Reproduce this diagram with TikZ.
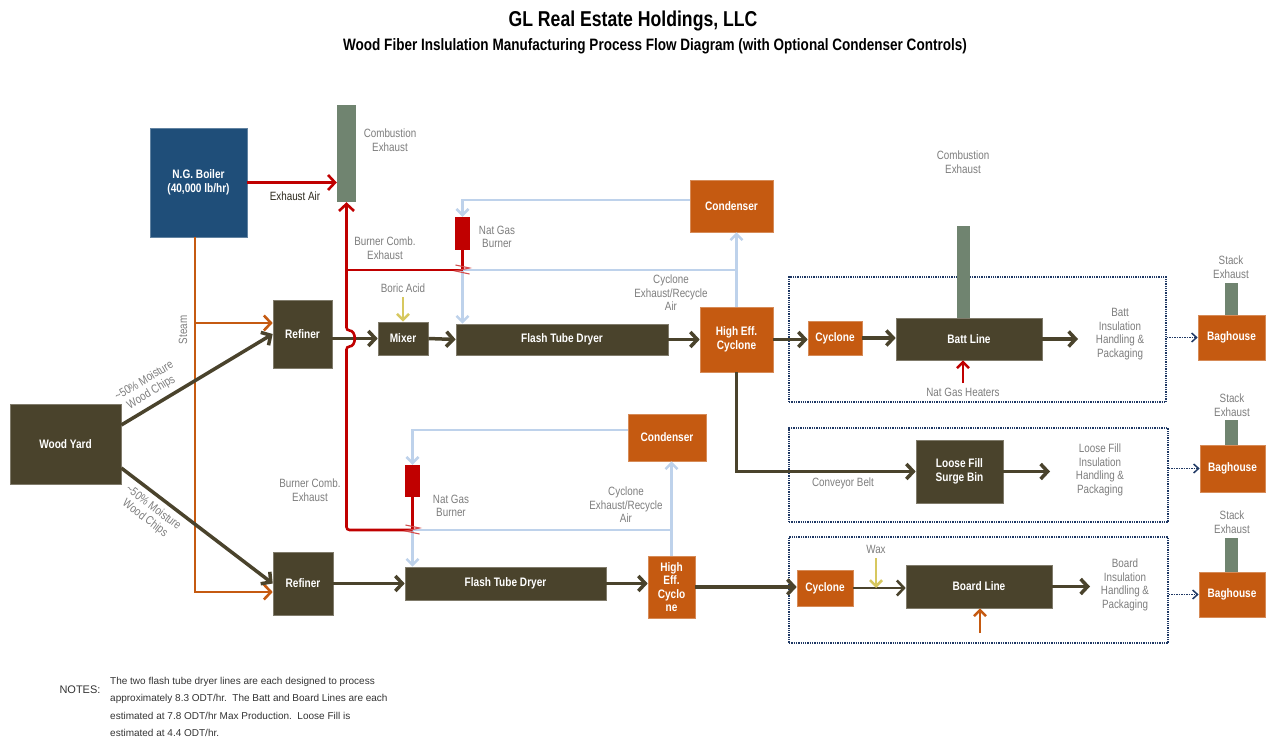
\documentclass[tikz,border=0pt]{standalone}
\usepackage{fontspec}
\setmainfont{Liberation Sans}
\newfontfamily\narrowfont{Liberation Sans}[FakeStretch=0.82]
\usepackage{tikz}
\usetikzlibrary{positioning,arrows.meta}
\definecolor{woodbrown}{RGB}{74,67,44}
\definecolor{rust}{RGB}{197,90,17}
\definecolor{boilerblue}{RGB}{31,78,121}
\definecolor{stackgreen}{RGB}{112,132,112}
\definecolor{fluered}{RGB}{192,0,0}
\definecolor{airblue}{RGB}{190,210,235}
\definecolor{additive}{RGB}{215,200,95}
\definecolor{zoneblue}{RGB}{31,56,100}
\definecolor{labelgray}{RGB}{125,125,125}

\tikzset{
  boxtext/.style={font=\narrowfont\bfseries\fontsize{12.3}{13.5}\selectfont,text=white,align=center,inner sep=1pt},
  woodbox/.style={boxtext,fill=woodbrown,draw=woodbrown!70!white,line width=0.6pt},
  rustbox/.style={boxtext,fill=rust,draw=rust!70!white,line width=0.6pt},
  stackbar/.style={fill=stackgreen,inner sep=0pt},
  burnerbox/.style={fill=fluered,inner sep=0pt,minimum width=15pt,minimum height=33pt},
  zonebox/.style={draw=zoneblue,densely dotted,line width=1.3pt,inner sep=0pt},
  lbl/.style={font=\narrowfont\fontsize{12}{13.5}\selectfont,text=labelgray,align=center,inner sep=1pt},
  barb/.style={-{Straight Barb[length=7pt,width=15pt]}},
  flow/.style={draw=woodbrown,line width=3.5pt},
  steamline/.style={draw=rust,line width=2.6pt},
  exhaust/.style={draw=fluered,line width=2.6pt},
  recycle/.style={draw=airblue,line width=2.6pt},
  smallbarb/.style={-{Straight Barb[length=6pt,width=12pt]}}
}

\begin{document}
\begin{tikzpicture}[x=1pt,y=-1pt]
  \useasboundingbox (0,0) rectangle (1266,746);

  % titles
  \node[font=\narrowfont\bfseries\fontsize{21.5}{23}\selectfont] (title) at (633,21) {GL Real Estate Holdings, LLC};
  \node[font=\narrowfont\bfseries\fontsize{16.5}{18}\selectfont] (subtitle) at (655,46)
    {Wood Fiber Inslulation Manufacturing Process Flow Diagram (with Optional Condenser Controls)};

  % steam side
  \node[boxtext,fill=boilerblue,draw=boilerblue!70!white,minimum width=97pt,minimum height=109pt] (boiler) at (198.5,182.5) {N.G. Boiler\\(40,000 lb/hr)};
  \node[stackbar,minimum width=19pt,minimum height=97pt] (stack1) at (346.5,153.5) {};
  \node[lbl] (combexh1) at (390,140) {Combustion\\Exhaust};
  \node[lbl,text=woodbrown!60!black] (exhair) at (295,196) {Exhaust Air};
  \node[lbl,rotate=90] (steam) at (183,330) {Steam};

  % feed
  \node[woodbox,minimum width=111pt,minimum height=80pt] (woodyard) at (65.5,444) {Wood Yard};
  \node[woodbox,minimum width=59pt,minimum height=68pt] (refiner1) at (302.5,334) {Refiner};
  \node[woodbox,minimum width=60pt,minimum height=63pt] (refiner2) at (303,583.5) {Refiner};

  % upper dryer line
  \node[woodbox,minimum width=50pt,minimum height=33pt] (mixer) at (403,338.5) {Mixer};
  \node[lbl] (boric) at (403,288) {Boric Acid};
  \coordinate (boricin) at (403,297);
  \node[woodbox,minimum width=212pt,minimum height=31pt] (dryer1) at (562,339.5) {Flash Tube Dryer};
  \node[rustbox,minimum width=73pt,minimum height=65pt] (hecyc1) at (736.5,339.5) {High Eff.\\Cyclone};
  \node[rustbox,minimum width=83pt,minimum height=52pt] (condenser1) at (731.5,206) {Condenser};
  \node[burnerbox] (burner1) at (462.5,233.5) {};
  \coordinate (jct1) at (462.5,270);
  \node[lbl] (natgas1) at (497,237) {Nat Gas\\Burner};
  \node[lbl] (burnexh1) at (385,248) {Burner Comb.\\Exhaust};
  \node[lbl] (recair1) at (671,293) {Cyclone\\Exhaust/Recycle\\Air};

  % lower dryer line
  \node[woodbox,minimum width=201pt,minimum height=33pt] (dryer2) at (505.5,583.5) {Flash Tube Dryer};
  \node[rustbox,minimum width=47pt,minimum height=62pt] (hecyc2) at (671.5,587) {High\\Eff.\\Cyclo\\ne};
  \node[rustbox,minimum width=78pt,minimum height=47pt] (condenser2) at (667,437.5) {Condenser};
  \node[burnerbox,minimum height=32pt] (burner2) at (412.5,481) {};
  \coordinate (jct2) at (412.5,530);
  \node[lbl] (natgas2) at (451,506) {Nat Gas\\Burner};
  \node[lbl] (burnexh2) at (310,490) {Burner Comb.\\Exhaust};
  \node[lbl] (recair2) at (626,505) {Cyclone\\Exhaust/Recycle\\Air};

  % batt zone
  \node[zonebox,minimum width=377pt,minimum height=125pt] (battzone) at (977.5,339.5) {};
  \node[rustbox,minimum width=54pt,minimum height=34pt] (cyclone1) at (835,338) {Cyclone};
  \node[stackbar,minimum width=13pt,minimum height=92pt] (stack2) at (963.5,272) {};
  \node[woodbox,minimum width=146pt,minimum height=42pt] (battline) at (969,339) {Batt Line};
  \node[lbl] (combexh2) at (963,162) {Combustion\\Exhaust};
  \node[lbl] (heaters) at (963,392) {Nat Gas Heaters};
  \coordinate (heatin) at (963,383);
  \node[lbl] (batttext) at (1120,334) {Batt\\Insulation\\Handling \&\\Packaging};
  \coordinate (battout) at (1078,339);
  \node[stackbar,minimum width=13pt,minimum height=32pt] (stack3) at (1231.5,299) {};
  \node[rustbox,minimum width=67pt,minimum height=45pt] (bag1) at (1231.5,337.5) {Baghouse};
  \node[lbl] (stacklbl1) at (1231,267) {Stack\\Exhaust};

  % loose fill zone
  \node[zonebox,minimum width=379pt,minimum height=94pt] (loosezone) at (978.5,475) {};
  \node[woodbox,minimum width=87pt,minimum height=63pt] (surge) at (959.5,471.5) {Loose Fill\\Surge Bin};
  \node[lbl] (conveyor) at (843,483) {Conveyor Belt};
  \node[lbl] (loosetext) at (1100,470) {Loose Fill\\Insulation\\Handling \&\\Packaging};
  \coordinate (looseout) at (1050,471.5);
  \node[stackbar,minimum width=13pt,minimum height=25pt] (stack4) at (1231.5,432.5) {};
  \node[rustbox,minimum width=65pt,minimum height=47pt] (bag2) at (1232.5,468.5) {Baghouse};
  \node[lbl] (stacklbl2) at (1232,405) {Stack\\Exhaust};

  % board zone
  \node[zonebox,minimum width=379pt,minimum height=106pt] (boardzone) at (978.5,590) {};
  \node[rustbox,minimum width=56pt,minimum height=36pt] (cyclone2) at (825,588) {Cyclone};
  \node[woodbox,minimum width=146pt,minimum height=43pt] (boardline) at (979,586.5) {Board Line};
  \node[lbl] (wax) at (876,549) {Wax};
  \coordinate (waxin) at (876,558);
  \coordinate (boardheat) at (980,633);
  \node[lbl] (boardtext) at (1125,585) {Board\\Insulation\\Handling \&\\Packaging};
  \coordinate (boardout) at (1090,588);
  \node[stackbar,minimum width=13pt,minimum height=34pt] (stack5) at (1231.5,555) {};
  \node[rustbox,minimum width=66pt,minimum height=45pt] (bag3) at (1232,594.5) {Baghouse};
  \node[lbl] (stacklbl3) at (1232,522) {Stack\\Exhaust};

  % notes
  \node[font=\fontsize{11}{12}\selectfont,text=black!80,anchor=east] (noteshead) at (104,690) {NOTES:};
  \node[font=\fontsize{10}{17.5}\selectfont,text=black!80,anchor=north west,align=left,inner sep=0pt] (notes) at (110,677)
    {The two flash tube dryer lines are each designed to process\\
     approximately 8.3 ODT/hr.\ \ The Batt and Board Lines are each\\
     estimated at 7.8 ODT/hr Max Production.\ \ Loose Fill is\\
     estimated at 4.4 ODT/hr.};

  % steam
  \coordinate (steam1) at ([yshift=11pt]refiner1.west);
  \coordinate (steam2) at ([yshift=-8.5pt]refiner2.west);
  \draw[steamline,barb] (boiler.south -| 195,0) |- (steam2);
  \draw[steamline,barb] (steam1 -| 195,0) -- (steam1);
  \draw[exhaust,barb] (boiler.east) -- (boiler.east -| stack1.west);

  % chips
  \draw[flow,barb] ([yshift=19pt]woodyard.east) -- (refiner1.west)
    node[lbl,pos=0.24,sloped,above=4pt] {\textasciitilde 50\% Moisture\\Wood Chips};
  \draw[flow,barb] ([yshift=-24pt]woodyard.east) -- (refiner2.west)
    node[lbl,pos=0.26,sloped,below=4pt] {\textasciitilde 50\% Moisture\\Wood Chips};

  % process flows
  \draw[flow,barb] (refiner1.east |- mixer.west) -- (mixer.west);
  \draw[flow,barb] (mixer.east) -- (dryer1.west);
  \draw[flow,barb] (dryer1.east) -- (dryer1.east -| hecyc1.west);
  \draw[flow,barb] (hecyc1.east) -- (hecyc1.east -| cyclone1.west);
  \draw[flow,barb] (cyclone1.east) -- (cyclone1.east -| battline.west);
  \draw[flow,barb] (battline.east) -- (battline.east -| battout);
  \draw[flow,barb] (hecyc1.south) |- (surge.west);
  \draw[flow,barb] (surge.east) -- (looseout);
  \draw[flow,barb] (refiner2.east) -- (refiner2.east -| dryer2.west);
  \draw[flow,barb] (dryer2.east) -- (dryer2.east -| hecyc2.west);
  \draw[flow,barb] (hecyc2.east) -- (hecyc2.east -| cyclone2.west);
  \draw[flow,line width=2.6pt,barb] (cyclone2.east) -- (cyclone2.east -| boardline.west);
  \draw[flow,barb] (boardline.east) -- (boardline.east -| boardout);

  % additives and heat
  \draw[draw=additive,line width=2.6pt,smallbarb] (boricin) -- (mixer.north);
  \draw[draw=additive,line width=2.6pt,smallbarb] (waxin) -- (waxin |- cyclone2.east);
  \draw[exhaust,smallbarb] (heatin) -- (heatin |- battline.south);
  \draw[steamline,smallbarb] (boardheat) -- (boardheat |- boardline.south);

  % recycle air
  \coordinate (c1out) at ([yshift=6pt]condenser1.west);
  \coordinate (c2out) at ([yshift=7.5pt]condenser2.west);
  \draw[recycle,smallbarb] (c1out) -| (burner1.north);
  \draw[recycle,smallbarb] (hecyc1.north) -- (hecyc1.north |- condenser1.south);
  \draw[recycle] (jct1 -| hecyc1.north) -- (jct1);
  \draw[recycle,smallbarb] (jct1) -- (jct1 |- dryer1.north);
  \draw[recycle,smallbarb] (c2out) -| (burner2.north);
  \draw[recycle,smallbarb] (hecyc2.north) -- (hecyc2.north |- condenser2.south);
  \draw[recycle] (jct2 -| hecyc2.north) -- (jct2);
  \draw[recycle,smallbarb] (jct2) -- (jct2 |- dryer2.north);

  % burner exhaust to stack
  \coordinate (hoplow) at ([yshift=-8pt]mixer.west);
  \coordinate (hophigh) at ([yshift=8pt]mixer.west);
  \draw[exhaust] (burner1.south) -- (jct1);
  \draw[exhaust] (burner2.south) -- (jct2);
  \draw[exhaust] (jct1) -- (jct1 -| stack1.south);
  \draw[exhaust,barb,rounded corners=3pt] (jct2) -- (jct2 -| stack1.south) -- (hoplow -| stack1.south)
    .. controls +(10,0) and +(10,0) .. (hophigh -| stack1.south) -- (stack1.south);
  \draw[fluered!70!white,line width=1.1pt] ([shift={(-7pt,5pt)}]jct1) -- ++(14pt,-3pt) -- ++(-14pt,-3pt) -- ++(14pt,-3pt);
  \draw[fluered!70!white,line width=1.1pt] ([shift={(-7pt,5pt)}]jct2) -- ++(14pt,-3pt) -- ++(-14pt,-3pt) -- ++(14pt,-3pt);

  % zone exits
  \draw[zoneblue,densely dotted,line width=1.5pt,-{Straight Barb[length=5pt,width=9pt]}] (battzone.east |- bag1.west) -- (bag1.west);
  \draw[zoneblue,densely dotted,line width=1.5pt,-{Straight Barb[length=5pt,width=9pt]}] (loosezone.east |- bag2.west) -- (bag2.west);
  \draw[zoneblue,densely dotted,line width=1.5pt,-{Straight Barb[length=5pt,width=9pt]}] (boardzone.east |- bag3.west) -- (bag3.west);
\end{tikzpicture}
\end{document}
